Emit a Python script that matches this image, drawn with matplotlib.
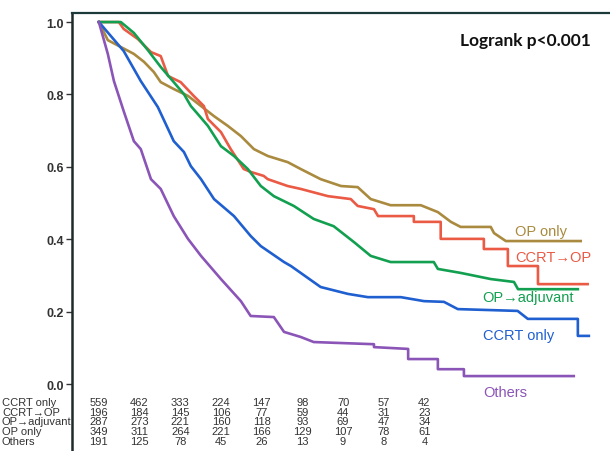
import matplotlib
matplotlib.use("Agg")
import matplotlib.pyplot as plt
from matplotlib.transforms import blended_transform_factory

plt.rcParams['font.family'] = ['Liberation Sans', 'DejaVu Sans']

# survival curves (time in intervals, survival fraction)
others_t = [0, 0.22, 0.37, 0.61, 0.86, 1.03, 1.28, 1.52, 1.84, 2.19, 2.51, 3.0, 3.49, 3.73, 4.30, 4.55,
            4.96, 5.28, 6.76, 6.76, 7.6, 7.6, 8.33, 8.33, 8.97, 8.97, 11.67]
others_s = [1.0, 0.912, 0.837, 0.754, 0.671, 0.649, 0.566, 0.539, 0.464, 0.401, 0.354, 0.290, 0.229, 0.188,
            0.185, 0.144, 0.130, 0.116, 0.110, 0.102, 0.097, 0.069, 0.069, 0.041, 0.041, 0.022, 0.022]

ccrt_t = [0, 0.61, 1.03, 1.45, 1.84, 2.09, 2.26, 2.51, 2.83, 3.32, 3.73, 3.98, 4.55, 4.72, 5.45, 6.12,
          6.61, 7.42, 7.99, 8.48, 8.82, 10.29, 10.54, 11.77, 11.77, 12.04]
ccrt_s = [1.0, 0.920, 0.837, 0.765, 0.671, 0.641, 0.602, 0.566, 0.511, 0.464, 0.409, 0.381, 0.337, 0.326,
          0.268, 0.249, 0.240, 0.240, 0.229, 0.227, 0.207, 0.202, 0.180, 0.180, 0.133, 0.133]

adj_t = [0, 0.54, 0.86, 1.20, 1.52, 1.84, 2.09, 2.26, 2.43, 2.68, 3.00, 3.32, 3.66, 3.98, 4.30, 4.79,
         5.28, 5.77, 6.27, 6.68, 7.17, 8.23, 8.33, 8.89, 9.63, 10.2, 10.3, 11.77]
adj_s = [1.0, 1.0, 0.970, 0.923, 0.876, 0.834, 0.801, 0.768, 0.746, 0.713, 0.657, 0.630, 0.594, 0.547,
         0.519, 0.492, 0.456, 0.436, 0.392, 0.354, 0.337, 0.337, 0.318, 0.307, 0.290, 0.282, 0.262, 0.262]

oponly_t = [0, 0.22, 0.54, 0.86, 1.11, 1.35, 1.52, 1.84, 2.19, 2.51, 2.83, 3.17, 3.49, 3.81, 4.15, 4.64,
            4.96, 5.45, 5.95, 6.36, 6.68, 7.17, 7.91, 8.33, 8.65, 8.89, 9.63, 9.71, 10.0, 11.84]
oponly_s = [1.0, 0.950, 0.931, 0.912, 0.890, 0.862, 0.834, 0.815, 0.796, 0.768, 0.740, 0.713, 0.685, 0.649,
            0.630, 0.613, 0.594, 0.566, 0.547, 0.544, 0.511, 0.494, 0.494, 0.475, 0.448, 0.434, 0.434, 0.417,
            0.395, 0.395]

ccrtop_t = [0, 0.49, 0.61, 0.96, 1.28, 1.52, 1.70, 2.01, 2.33, 2.58, 2.68, 3.00, 3.24, 3.56, 3.73, 4.05,
            4.15, 4.64, 4.96, 5.63, 6.19, 6.36, 6.76, 6.86, 7.74, 7.74, 8.40, 8.40, 9.46, 9.46, 10.05, 10.05,
            10.79, 10.79, 12.01]
ccrtop_s = [1.0, 1.0, 0.981, 0.953, 0.917, 0.906, 0.851, 0.834, 0.796, 0.768, 0.732, 0.696, 0.649, 0.594,
            0.586, 0.575, 0.566, 0.547, 0.539, 0.519, 0.511, 0.492, 0.483, 0.464, 0.464, 0.448, 0.448, 0.401,
            0.401, 0.373, 0.373, 0.326, 0.326, 0.276, 0.276]

# number at risk
risk_labels = ["CCRT only", "CCRT\u2192OP", "OP\u2192adjuvant", "OP only", "Others"]
risk_ccrt = [559, 462, 333, 224, 147, 98, 70, 57, 42]
risk_ccrtop = [196, 184, 145, 106, 77, 59, 44, 31, 23]
risk_adj = [287, 273, 221, 160, 118, 93, 69, 47, 34]
risk_oponly = [349, 311, 264, 221, 166, 129, 107, 78, 61]
risk_others = [191, 125, 78, 45, 26, 13, 9, 8, 4]

c_others = '#8b55b8'
c_ccrt = '#1f5fd0'
c_adj = '#12a050'
c_oponly = '#a98a3e'
c_ccrtop = '#ea5a44'

fig = plt.figure(figsize=(6.10, 4.52), dpi=100)
ax = fig.add_axes([72 / 610, 0.0, 1 - 72 / 610, 1 - 14 / 452])

lw = 1.9
ax.plot(oponly_t, oponly_s, color=c_oponly, lw=lw)
ax.plot(ccrtop_t, ccrtop_s, color=c_ccrtop, lw=lw)
ax.plot(adj_t, adj_s, color=c_adj, lw=lw)
ax.plot(ccrt_t, ccrt_s, color=c_ccrt, lw=lw)
ax.plot(others_t, others_s, color=c_others, lw=lw)

ax.set_xlim(-0.66, 12.56)
ax.set_ylim(-0.185, 1.025)

for s in ['right', 'bottom']:
    ax.spines[s].set_visible(False)
ax.spines['left'].set_linewidth(1.8)
ax.spines['left'].set_color('#1d2b2b')
ax.spines['top'].set_linewidth(1.6)
ax.spines['top'].set_color('#1d3a3a')

ax.set_xticks([])
ax.set_yticks([0.0, 0.2, 0.4, 0.6, 0.8, 1.0])
ax.set_yticklabels(['0.0', '0.2', '0.4', '0.6', '0.8', '1.0'])
ax.tick_params(axis='y', direction='out', length=4, width=1, color='#333333',
               labelsize=9, labelcolor='#333333', pad=2)
for lab in ax.get_yticklabels():
    lab.set_fontweight('bold')

# curve labels
ax.text(10.22, 0.422, "OP only", color=c_oponly, fontsize=10.5, va='center')
ax.text(10.22, 0.350, "CCRT\u2192OP", color=c_ccrtop, fontsize=10.5, va='center')
ax.text(9.43, 0.240, "OP\u2192adjuvant", color=c_adj, fontsize=10.5, va='center')
ax.text(9.45, 0.135, "CCRT only", color=c_ccrt, fontsize=10.5, va='center')
ax.text(9.45, -0.022, "Others", color=c_others, fontsize=10.5, va='center')

ax.text(0.965, 0.938, "Logrank p<0.001", transform=ax.transAxes, ha='right', va='center',
        fontsize=12.5, fontweight='bold', family='Lato', color='#111111')

# number at risk table
trans = blended_transform_factory(fig.transFigure, ax.transData)
rows = [risk_ccrt, risk_ccrtop, risk_adj, risk_oponly, risk_others]
row_y = [-0.050, -0.076, -0.103, -0.130, -0.157]
for label, vals, yy in zip(risk_labels, rows, row_y):
    ax.text(2 / 610, yy, label, transform=trans, fontsize=8, va='center', ha='left',
            color='#333333', clip_on=False)
    for i, n in enumerate(vals):
        ax.text(i, yy, str(n), fontsize=8, va='center', ha='center', color='#333333')

fig.savefig("out.png", dpi=100)
